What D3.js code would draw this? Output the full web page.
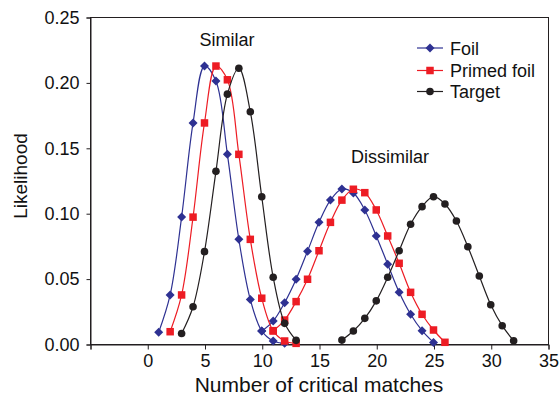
<!DOCTYPE html>
<html>
<head>
<meta charset="utf-8">
<script src="https://cdn.jsdelivr.net/npm/d3@7"></script>
<style>
  html, body { margin: 0; padding: 0; background: #fff; }
  svg { display: block; font-family: "Liberation Sans", Arial, Helvetica, sans-serif; }
</style>
</head>
<body>
<svg id="chart" width="559" height="398"></svg>
<script>
// ---- data ----
const xTicks = [0, 5, 10, 15, 20, 25, 30, 35];
const yTicks = [0, 0.05, 0.10, 0.15, 0.20, 0.25];

const foilSimilarX = [1, 2, 3, 4, 5, 6, 7, 8, 9, 10, 11, 12];
const foilSimilarY = [0.009, 0.0375, 0.097, 0.169, 0.2125, 0.201, 0.145, 0.080, 0.034, 0.010, 0.0023, 0.0005];
const primedSimilarX = [2, 3, 4, 5, 6, 7, 8, 9, 10, 11, 12, 13];
const primedSimilarY = [0.0094, 0.0375, 0.097, 0.169, 0.2125, 0.202, 0.145, 0.080, 0.035, 0.010, 0.0023, 0.0005];
const targetSimilarX = [3, 4, 5, 6, 7, 8, 9, 10, 11, 12, 13];
const targetSimilarY = [0.008, 0.0285, 0.0706, 0.132, 0.191, 0.2108, 0.1776, 0.1126, 0.051, 0.0158, 0.0028];

const foilDissimilarX = [10, 11, 12, 13, 14, 15, 16, 17, 18, 19, 20, 21, 22, 23, 24, 25];
const foilDissimilarY = [0.0099, 0.0175, 0.0316, 0.0495, 0.071, 0.093, 0.110, 0.1185, 0.1155, 0.1025, 0.0826, 0.061, 0.0395, 0.0227, 0.0102, 0.0012];
const primedDissimilarX = [11, 12, 13, 14, 15, 16, 17, 18, 19, 20, 21, 22, 23, 24, 25, 26];
const primedDissimilarY = [0.0102, 0.0183, 0.0324, 0.0495, 0.0713, 0.093, 0.110, 0.1183, 0.1157, 0.1025, 0.0826, 0.0617, 0.0395, 0.0227, 0.0107, 0.0013];
const targetDissimilarX = [17, 18, 19, 20, 21, 22, 23, 24, 25, 26, 27, 28, 29, 30, 31, 32];
const targetDissimilarY = [0.003, 0.0099, 0.0196, 0.033, 0.051, 0.0713, 0.0915, 0.105, 0.1126, 0.107, 0.094, 0.0744, 0.052, 0.030, 0.014, 0.0025];

const seriesNames = ["Foil", "Primed foil", "Target"];
const seriesColors = ["#2e3192", "#ed1c24", "#231f20"];

// ---- layout ----
const svg = d3.select("#chart");
const plotL = 90, plotR = 548, plotT = 17, plotB = 344;
const x = d3.scaleLinear().domain([-5, 35]).range([plotL, plotR]);
const y = d3.scaleLinear().domain([0, 0.25]).range([plotB, plotT]);
const axisColor = "#231f20";

// frame
svg.append("rect")
  .attr("x", plotL + 0.5).attr("y", plotT + 0.5)
  .attr("width", plotR - plotL).attr("height", plotB - plotT)
  .attr("fill", "none").attr("stroke", axisColor).attr("stroke-width", 1);

// y axis
const yAxis = d3.axisLeft(y).tickValues(yTicks).tickFormat(d3.format(".2f")).tickSize(4).tickPadding(7);
const gy = svg.append("g").attr("transform", `translate(${plotL + 0.5},0.5)`).call(yAxis);
gy.select(".domain").attr("stroke", axisColor);
gy.selectAll(".tick line").attr("stroke", axisColor);
gy.selectAll(".tick text").attr("font-size", 18).attr("fill", "#111").attr("font-family", "Liberation Sans, Arial, sans-serif");

// x axis
const xAxis = d3.axisBottom(x).tickValues([-5].concat(xTicks))
  .tickFormat(d => d < 0 ? "" : d3.format("d")(d)).tickSize(5).tickPadding(5);
const gx = svg.append("g").attr("transform", `translate(0.5,${plotB + 0.5})`).call(xAxis);
gx.select(".domain").attr("stroke", axisColor);
gx.selectAll(".tick line").attr("stroke", axisColor);
gx.selectAll(".tick text").attr("font-size", 18).attr("fill", "#111").attr("font-family", "Liberation Sans, Arial, sans-serif");

// axis titles
svg.append("text").attr("x", 319).attr("y", 392).attr("text-anchor", "middle")
  .attr("font-size", 21).attr("fill", "#111").text("Number of critical matches");
svg.append("text").attr("transform", "translate(27,176) rotate(-90)").attr("text-anchor", "middle")
  .attr("font-size", 19).attr("fill", "#111").text("Likelihood");

// annotations
svg.append("text").attr("x", 227).attr("y", 46).attr("text-anchor", "middle")
  .attr("font-size", 18).attr("fill", "#111").text("Similar");
svg.append("text").attr("x", 390).attr("y", 163).attr("text-anchor", "middle")
  .attr("font-size", 18).attr("fill", "#111").text("Dissimilar");

// ---- series ----
const line = d3.line().x(d => x(d[0])).y(d => y(d[1])).curve(d3.curveCatmullRom.alpha(0.5));
const zip = (xs, ys) => xs.map((v, i) => [v, ys[i]]);

const groups = [
  [zip(foilSimilarX, foilSimilarY), zip(foilDissimilarX, foilDissimilarY)],
  [zip(primedSimilarX, primedSimilarY), zip(primedDissimilarX, primedDissimilarY)],
  [zip(targetSimilarX, targetSimilarY), zip(targetDissimilarX, targetDissimilarY)]
];

function drawMarker(g, cx, cy, si, color) {
  if (si === 0) {
    const r = 4.5;
    g.append("path").attr("d", `M${cx},${cy - r}L${cx + r},${cy}L${cx},${cy + r}L${cx - r},${cy}Z`).attr("fill", color);
  } else if (si === 1) {
    const s = 7.5;
    g.append("rect").attr("x", cx - s / 2).attr("y", cy - s / 2).attr("width", s).attr("height", s).attr("fill", color);
  } else {
    g.append("circle").attr("cx", cx).attr("cy", cy).attr("r", 3.8).attr("fill", color);
  }
}

groups.forEach((segs, si) => {
  const g = svg.append("g");
  segs.forEach(seg => {
    g.append("path").attr("d", line(seg)).attr("fill", "none")
      .attr("stroke", seriesColors[si]).attr("stroke-width", 1.2);
  });
  segs.forEach(seg => {
    seg.forEach(d => drawMarker(g, x(d[0]), y(d[1]), si, seriesColors[si]));
  });
});

// ---- legend ----
const legY = [48, 70.5, 91.5];
seriesNames.forEach((name, i) => {
  const g = svg.append("g");
  g.append("line").attr("x1", 417).attr("x2", 443).attr("y1", legY[i]).attr("y2", legY[i])
    .attr("stroke", seriesColors[i]).attr("stroke-width", 1.2);
  drawMarker(g, 430, legY[i], i, seriesColors[i]);
  g.append("text").attr("x", 450).attr("y", legY[i] + 6.5).attr("font-size", 18).attr("fill", "#111").text(name);
});
</script>
</body>
</html>
